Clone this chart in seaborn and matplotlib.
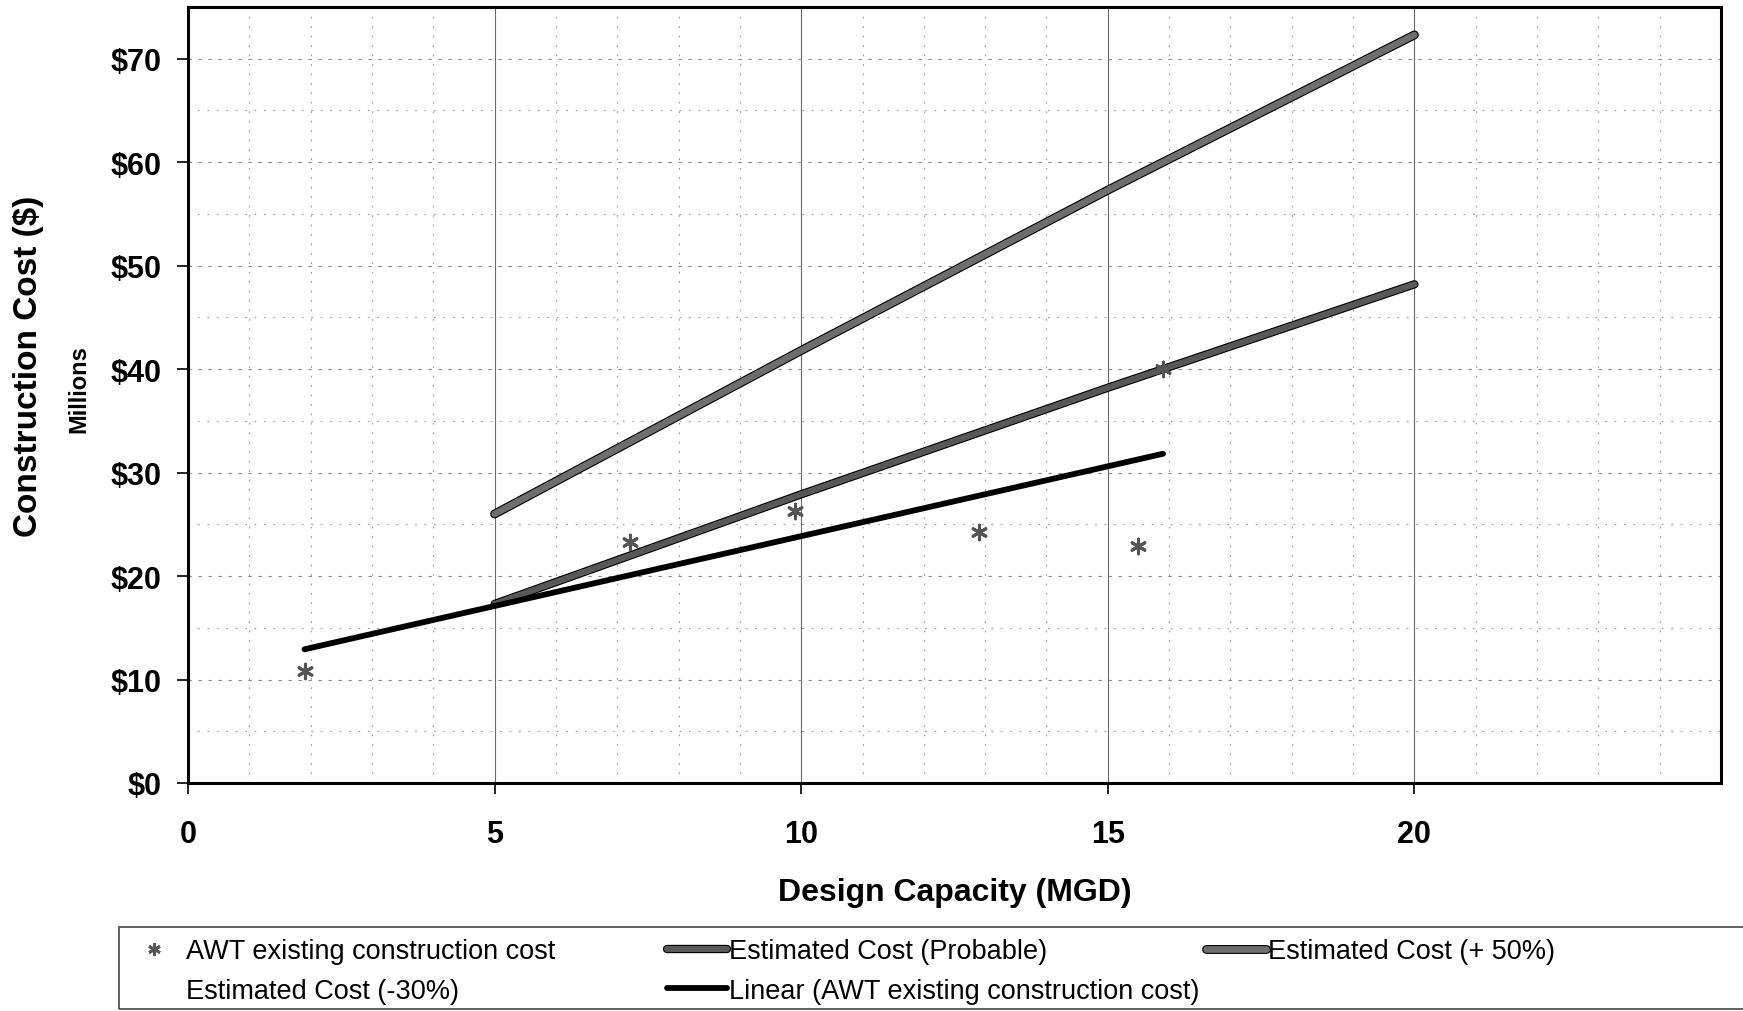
import numpy as np
import pandas as pd
import seaborn as sns
import matplotlib
matplotlib.use("Agg")
import matplotlib.pyplot as plt
from matplotlib import patheffects as pe
from matplotlib.lines import Line2D
from matplotlib.patches import Rectangle
from matplotlib.ticker import MultipleLocator, FuncFormatter

# Existing AWT plants: design capacity (MGD) vs construction cost ($ millions)
capacity_existing = [1.9, 7.2, 9.9, 12.9, 15.5, 15.9]
cost_existing = [10.8, 23.3, 26.3, 24.3, 22.9, 40.0]

# Estimated cost curves ($ millions)
capacity_est = [5, 10, 15, 20]
cost_probable = [17.3, 27.9, 38.2, 48.2]
cost_plus50 = [26.0, 41.8, 57.3, 72.3]
cost_minus30 = [12.1, 19.5, 26.7, 33.7]

x_ticks = [0, 5, 10, 15, 20]
y_ticks = [0, 10, 20, 30, 40, 50, 60, 70]

sns.set_theme(style="white")
plt.rcParams["font.family"] = ["Liberation Sans", "DejaVu Sans"]
plt.rcParams.update({"text.color": "black", "axes.labelcolor": "black",
                     "xtick.color": "black", "ytick.color": "black"})

existing = pd.DataFrame({"capacity": capacity_existing, "cost": cost_existing})
estimates = pd.DataFrame({
    "capacity": capacity_est,
    "probable": cost_probable,
    "plus50": cost_plus50,
    "minus30": cost_minus30,
})

fig = plt.figure(figsize=(17.43, 10.12), dpi=100)
ax = fig.add_axes([188 / 1743, 1 - 784 / 1012, (1721 - 188) / 1743, (784 - 8) / 1012])
ax.set_facecolor("white")

# Grid: sparse dotted minor lines, thin solid verticals every 5 MGD
ax.set_axisbelow(True)
ax.xaxis.set_minor_locator(MultipleLocator(1))
ax.yaxis.set_minor_locator(MultipleLocator(5))
ax.grid(which="minor", axis="both", color="#9a9a9a", lw=0.8, ls=(0, (1.5, 7)))
ax.grid(which="major", axis="y", color="#8a8a8a", lw=0.8, ls=(0, (3, 6)))
ax.grid(which="major", axis="x", color="#6a6a6a", lw=0.8, ls="-")

outline = lambda w: [pe.Stroke(linewidth=w + 1.6, foreground="black"), pe.Normal()]

# -30% estimate (drawn in white)
sns.lineplot(data=estimates, x="capacity", y="minus30", ax=ax, color="white",
             lw=1.0, zorder=0.3)

sns.lineplot(data=estimates, x="capacity", y="plus50", ax=ax, color="#6e6e6e",
             lw=4.8, zorder=3, path_effects=outline(4.8),
             solid_capstyle="round")
sns.lineplot(data=estimates, x="capacity", y="probable", ax=ax, color="#585858",
             lw=4.4, zorder=3, path_effects=outline(4.4),
             solid_capstyle="round")

# Linear trend of the existing plants
sns.regplot(data=existing, x="capacity", y="cost", ax=ax, scatter=False, ci=None,
            truncate=True, line_kws=dict(color="black", lw=4.2, zorder=4,
                                         solid_capstyle="round"))

sns.scatterplot(data=existing, x="capacity", y="cost", ax=ax, marker=(6, 2, 0),
                s=110, color="#555555", linewidth=2.2, zorder=5)

ax.set_xlim(0, 25)
ax.set_ylim(0, 75)
ax.set_xticks(x_ticks)
ax.set_yticks(y_ticks)
ax.yaxis.set_major_formatter(FuncFormatter(lambda v, p: f"${v:.0f}"))
ax.tick_params(axis="both", which="major", direction="out", length=8, width=1.2,
               color="black", labelsize=22, labelcolor="black", bottom=True, left=True)
ax.tick_params(axis="x", which="major", pad=18)
ax.tick_params(axis="y", which="major", pad=11)
ax.tick_params(which="minor", length=0)
for lab in ax.get_xticklabels() + ax.get_yticklabels():
    lab.set_fontweight("bold")

for side in ["left", "bottom", "right", "top"]:
    ax.spines[side].set_visible(True)
    ax.spines[side].set_color("black")
    ax.spines[side].set_linewidth(2.2)

ax.set_xlabel("Design Capacity (MGD)", fontsize=23, fontweight="bold", labelpad=20,
              color="black")
ax.set_ylabel("")
fig.text(29 / 1743, 1 - 366 / 1012, "Construction Cost ($)", rotation=90,
         ha="center", va="center", fontsize=24, fontweight="bold", color="black")
fig.text(79 / 1743, 1 - 389 / 1012, "Millions", rotation=90,
         ha="center", va="center", fontsize=17, fontweight="bold", color="black")

# Legend frame and entries
fig.patches.append(Rectangle((119 / 1743, 2 / 1012), 1.0, 82 / 1012,
                             transform=fig.transFigure, fill=False,
                             edgecolor="#444444", lw=1.2))

h_awt = Line2D([], [], ls="none", marker=(6, 2, 0), ms=9, mew=2.0, color="#555555")
h_m30 = Line2D([], [], color="white", lw=1.0)
h_prob = Line2D([], [], color="#585858", lw=4.4, path_effects=outline(4.4))
h_lin = Line2D([], [], color="black", lw=4.2)
h_p50 = Line2D([], [], color="#6e6e6e", lw=4.8, path_effects=outline(4.8))

leg_kw = dict(loc="upper left", frameon=False, fontsize=19.5, handlelength=2.2,
              handletextpad=0.1, borderpad=0, labelspacing=0.5, borderaxespad=0)
top = 1 - 939 / 1012
l1 = fig.legend([h_awt, h_m30], ["AWT existing construction cost", "Estimated Cost (-30%)"],
                bbox_to_anchor=(124 / 1743, top), **leg_kw)
l2 = fig.legend([h_prob, h_lin], ["Estimated Cost (Probable)",
                                  "Linear (AWT existing construction cost)"],
                bbox_to_anchor=(667 / 1743, top), **leg_kw)
l3 = fig.legend([h_p50], ["Estimated Cost (+ 50%)"],
                bbox_to_anchor=(1206 / 1743, top), **leg_kw)

fig.savefig("out.png", dpi=100, facecolor="white")
